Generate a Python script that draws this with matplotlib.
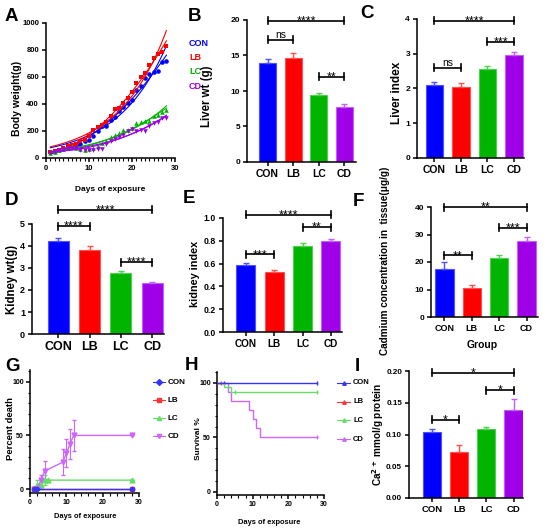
import numpy as np
import matplotlib
matplotlib.use("Agg")
import matplotlib.pyplot as plt
from matplotlib.lines import Line2D
from matplotlib.ticker import MultipleLocator

W, H = 550, 530
plt.rcParams['font.family'] = ['Liberation Sans', 'DejaVu Sans']
plt.rcParams['font.weight'] = 'bold'
plt.rcParams['axes.linewidth'] = 1.1
plt.rcParams['xtick.major.width'] = 1.1
plt.rcParams['ytick.major.width'] = 1.1
plt.rcParams['xtick.major.size'] = 3
plt.rcParams['ytick.major.size'] = 3

groups = ['CON', 'LB', 'LC', 'CD']
bar_colors = ['#0000ff', '#ff0000', '#00b400', '#a000e8']
edge_colors = ['#5050ff', '#ff5050', '#50d050', '#c060ff']
line_colors = ['#3333ff', '#ff3333', '#66dd66', '#cc66ff']

# A: body weight over days
days = np.arange(1, 29)
bw_con = [42, 49, 62, 68, 75, 85, 95, 106, 123, 136, 160, 198, 240, 240, 279, 304, 346, 378,
          408, 432, 501, 536, 593, 625, 635, 642, 709, 716]
bw_lb = [42, 49, 62, 74, 86, 94, 104, 123, 136, 160, 210, 227, 247, 264, 309, 365, 370, 408,
         445, 487, 556, 600, 630, 692, 741, 773, 783, 832]
bw_lc = [37, 47, 57, 69, 77, 86, 74, 67, 62, 67, 74, 86, 111, 123, 156, 173, 185, 205,
         210, 222, 259, 267, 274, 272, 309, 321, 338, 358]
bw_cd = [37, 47, 57, 67, 72, 77, 72, 62, 57, 62, 62, 67, 69, 106, 123, 141, 156, 173,
         198, 215, 198, 205, 198, 240, 259, 267, 296, 296]

# bar panels
liver_wt = [14.0, 14.7, 9.5, 7.76]
liver_wt_err = [0.45, 0.7, 0.24, 0.34]
liver_idx = [2.1, 2.04, 2.56, 2.97]
liver_idx_err = [0.075, 0.11, 0.1, 0.07]
kidney_wt = [4.24, 3.83, 2.77, 2.32]
kidney_wt_err = [0.12, 0.19, 0.08, 0.04]
kidney_idx = [0.59, 0.525, 0.758, 0.80]
kidney_idx_err = [0.018, 0.021, 0.02, 0.02]
cd_tissue = [17.3, 10.5, 21.6, 27.6]
cd_tissue_err = [2.7, 1.3, 1.1, 1.5]
ca_level = [0.104, 0.0724, 0.108, 0.139]
ca_level_err = [0.004, 0.0106, 0.004, 0.017]

# significance brackets: (group a, group b, height, label)
sig_b = [(0, 1, 17.2, 'ns'), (0, 3, 19.9, '****'), (2, 3, 12.0, '**')]
sig_c = [(0, 1, 2.6, 'ns'), (0, 3, 3.95, '****'), (2, 3, 3.35, '***')]
sig_d = [(0, 1, 4.9, '****'), (0, 3, 5.65, '****'), (2, 3, 3.27, '****')]
sig_e = [(0, 1, 0.68, '***'), (0, 3, 1.03, '****'), (2, 3, 0.92, '**')]
sig_f = [(0, 1, 22.4, '**'), (0, 3, 39.9, '**'), (2, 3, 32.5, '***')]
sig_i = [(0, 1, 0.123, '*'), (0, 3, 0.197, '*'), (2, 3, 0.170, '*')]

# G: percent death
death_con_x = [1, 2, 28]
death_con_y = [0, 0, 0]
death_lb_x = [1, 28]
death_lb_y = [0, 0]
death_lc_x = [1, 2, 3, 4, 5, 28]
death_lc_y = [0, 4.2, 4.2, 8.3, 8.3, 8.3]
death_lc_err = [0, 4, 4, 5, 0, 0]
death_cd_x = [1, 2, 3, 4, 9, 10, 11, 12, 28]
death_cd_y = [0, 0, 8.3, 16.7, 25, 33.3, 41.7, 50, 50]
death_cd_err = [0, 0, 5, 9, 12, 13, 14, 14.5, 0]

# H: survival
surv_con_t = [0, 28]
surv_con_s = [100, 100]
surv_lb_t = [0, 1]
surv_lb_s = [100, 100]
surv_lc_t = [0, 2, 4, 28]
surv_lc_s = [100, 95.8, 91.7, 91.7]
surv_cd_t = [0, 3, 4, 9, 10, 11, 12, 28]
surv_cd_s = [100, 91.7, 83.3, 75, 66.7, 58.3, 50, 50]

fig = plt.figure(figsize=(W / 100, H / 100), dpi=100)


def px_ax(left, top, right, bottom):
    return fig.add_axes([left / W, 1 - bottom / H, (right - left) / W, (bottom - top) / H])


def ftext(x, y, s, **kw):
    fig.text(x / W, 1 - y / H, s, **kw)


def clean(ax, size=6):
    ax.spines['top'].set_visible(False)
    ax.spines['right'].set_visible(False)
    ax.tick_params(labelsize=size, pad=2)


def bracket(ax, a, b, y, label):
    y0, y1 = ax.get_ylim()
    d = 3.5 / ax.bbox.height * (y1 - y0)
    ax.plot([a, b], [y, y], color='black', lw=1.2, clip_on=False)
    ax.plot([a, a], [y - d, y + d], color='black', lw=1.2, clip_on=False)
    ax.plot([b, b], [y - d, y + d], color='black', lw=1.2, clip_on=False)
    if label == 'ns':
        ax.annotate(label, ((a + b) / 2, y), xytext=(0, 1.2), textcoords='offset points',
                    ha='center', va='baseline', fontsize=7.5, fontweight='normal',
                    annotation_clip=False)
    else:
        ax.annotate(label, ((a + b) / 2, y), xytext=(0, -2.6), textcoords='offset points',
                    ha='center', va='baseline', fontsize=9, fontweight='normal',
                    annotation_clip=False)


def bar_panel(box, vals, errs, ymax, step, xl, xr, sigs, fmt, xsize=7.5, ysize=6):
    ax = px_ax(*box)
    x = np.arange(len(groups))
    ax.bar(x, vals, width=0.67, color=bar_colors, edgecolor=edge_colors, linewidth=0.8)
    for i in range(len(groups)):
        ax.errorbar(x[i], vals[i], yerr=[[0], [errs[i]]], fmt='none', ecolor=edge_colors[i],
                    elinewidth=1, capsize=2.5, capthick=1)
    ax.set_xlim(xl, 3 + xr)
    ax.set_ylim(0, ymax)
    ticks = np.arange(0, ymax + step / 2, step)
    ax.set_yticks(ticks)
    ax.set_yticklabels([fmt.format(v) for v in ticks])
    ax.set_xticks(x)
    ax.set_xticklabels(groups)
    clean(ax, ysize)
    ax.tick_params(axis='x', labelsize=xsize)
    for a, b, y, lab in sigs:
        bracket(ax, a, b, y, lab)
    return ax


# ---- A ----
axA = px_ax(46, 23, 175, 158)
series = [bw_con, bw_lb, bw_lc, bw_cd]
markers = ['o', 's', '^', 'v']
xfit = np.linspace(1, 28, 100)
for vals, c, m in zip(series, bar_colors, markers):
    vals = np.array(vals, float)
    axA.plot(days, vals, m, color=c, ms=3.3, mew=0)
    k, b0 = np.polyfit(days, np.log(vals), 1, w=vals ** 0.75)
    axA.plot(xfit, np.exp(b0 + k * xfit), color=c, lw=0.8)
    p = np.polyfit(days, vals, 2)
    axA.plot(xfit, np.polyval(p, xfit), color=c, lw=0.8)
axA.set_xlim(0, 30)
axA.set_ylim(0, 1000)
axA.set_xticks([0, 10, 20, 30])
axA.set_yticks(range(0, 1001, 200))
axA.xaxis.set_minor_locator(MultipleLocator(1))
axA.tick_params(axis='x', which='minor', length=2, width=0.8)
clean(axA, 5.5)
ftext(17, 98, 'Body weight(g)', rotation=90, ha='center', va='center', fontsize=7.5)
ftext(110, 190, 'Days of exposure', ha='center', va='center', fontsize=6)
for i, (g, c) in enumerate(zip(groups, bar_colors)):
    ftext(189, 43 + 14.5 * i, g, color=c, ha='left', va='center', fontsize=6.5)

# ---- bar panels ----
bar_panel((247, 20, 356, 162), liver_wt, liver_wt_err, 20, 5, -0.8, 0.45, sig_b, '{:.0f}')
ftext(207, 96, 'Liver wt (g)', rotation=90, ha='center', va='center', fontsize=8.3)

bar_panel((417, 19, 524, 158), liver_idx, liver_idx_err, 4, 1, -0.66, 0.38, sig_c, '{:.0f}')
ftext(397, 93, 'Liver index', rotation=90, ha='center', va='center', fontsize=8.5)

bar_panel((32, 224, 164, 334), kidney_wt, kidney_wt_err, 5, 1, -0.84, 0.38, sig_d, '{:.0f}',
          xsize=9, ysize=6.5)
ftext(12, 279, 'Kidney wt(g)', rotation=90, ha='center', va='center', fontsize=8.3)

bar_panel((223, 218, 342, 332), kidney_idx, kidney_idx_err, 1.0, 0.2, -0.81, 0.39, sig_e,
          '{:.1f}', xsize=7.2, ysize=6.3)
ftext(195, 274, 'kidney index', rotation=90, ha='center', va='center', fontsize=7.8)

bar_panel((431, 207, 538, 317), cd_tissue, cd_tissue_err, 40, 10, -0.49, 0.42, sig_f,
          '{:.0f}', xsize=6.5)
ftext(385, 261, 'Cadmium concentration in  tissue(\u03bcg/g)', rotation=90, ha='center',
      va='center', fontsize=7.2)
ftext(482, 345, 'Group', ha='center', va='center', fontsize=7.5)

bar_panel((409, 371, 523, 498), ca_level, ca_level_err, 0.20, 0.05, -0.85, 0.35, sig_i,
          '{:.2f}', xsize=6.8, ysize=5.8)
ftext(378, 434, 'Ca$^{\\mathbf{2+}}$ mmol/g protein', rotation=90, ha='center', va='center',
      fontsize=7.2)

# ---- G ----
axG = px_ax(30, 370, 139, 493)
axG.plot(death_con_x, death_con_y, '-D', color=line_colors[0], ms=2.5, lw=1, zorder=4)
axG.plot(death_lb_x, death_lb_y, '-s', color=line_colors[1], ms=3.5, lw=1, zorder=3)
axG.errorbar(death_lc_x, death_lc_y, yerr=death_lc_err, fmt='-^', color=line_colors[2], ms=3.5,
             lw=1, elinewidth=0.8, capsize=1.5)
axG.errorbar(death_cd_x, death_cd_y, yerr=death_cd_err, fmt='-v', color=line_colors[3], ms=3.5,
             lw=1, elinewidth=0.8, capsize=1.5)
axG.set_xlim(0, 30)
axG.set_ylim(-3.7, 111)
axG.set_xticks([0, 10, 20, 30])
axG.set_yticks([0, 50, 100])
axG.xaxis.set_minor_locator(MultipleLocator(2))
axG.yaxis.set_minor_locator(MultipleLocator(10))
axG.tick_params(which='minor', length=1.8, width=0.8)
clean(axG, 5)
axG.tick_params(labelsize=5, pad=1.5)
ftext(11, 429, 'Percent death', rotation=90, ha='center', va='center', fontsize=6.8)
ftext(85, 516, 'Days of exposure', ha='center', va='center', fontsize=5.4)
for i, (g, m) in enumerate(zip(groups, ['D', 's', '^', 'v'])):
    yy = 1 - (382 + 18 * i) / H
    fig.add_artist(Line2D([153 / W, 165 / W], [yy, yy], color=line_colors[i], lw=0.8,
                          transform=fig.transFigure))
    fig.add_artist(Line2D([159 / W], [yy], marker=m, color=line_colors[i], ms=3,
                          transform=fig.transFigure))
    ftext(168, 382 + 18 * i, g, ha='left', va='center', fontsize=5.8)

# ---- H ----
axH = px_ax(217, 372, 324, 495)
surv = [(surv_con_t, surv_con_s), (surv_lb_t, surv_lb_s), (surv_lc_t, surv_lc_s),
        (surv_cd_t, surv_cd_s)]
for i, (t, s) in enumerate(surv):
    axH.step(t, s, where='post', color=line_colors[i], lw=1, zorder=5 - i)
    axH.plot(t[-1], s[-1], '|', color=line_colors[i], ms=3.5, mew=1)
axH.plot(2, 100, '|', color=line_colors[0], ms=3.5, mew=1)
axH.plot(5, 91.7, '|', color=line_colors[2], ms=3.5, mew=1)
axH.set_xlim(0, 30)
axH.set_ylim(-2.8, 110)
axH.set_xticks([0, 10, 20, 30])
axH.set_yticks([0, 50, 100])
axH.xaxis.set_minor_locator(MultipleLocator(2))
axH.yaxis.set_minor_locator(MultipleLocator(10))
axH.tick_params(which='minor', length=1.8, width=0.8)
clean(axH, 5)
axH.tick_params(labelsize=5, pad=1.5)
ftext(198, 439, 'Survival %', rotation=90, ha='center', va='center', fontsize=6)
ftext(269, 522, 'Days of exposure', ha='center', va='center', fontsize=5.4)
for i, g in enumerate(groups):
    yy = 1 - (383 + 18.7 * i) / H
    fig.add_artist(Line2D([337 / W, 350 / W], [yy, yy], color=line_colors[i], lw=0.8,
                          transform=fig.transFigure))
    fig.add_artist(Line2D([343.5 / W], [yy], marker='^', color=line_colors[i], ms=2.5,
                          transform=fig.transFigure))
    ftext(353, 383 + 18.7 * i, g, ha='left', va='center', fontsize=5.5)

# panel letters
letters = [('A', 5, 8), ('B', 188, 8), ('C', 360, 5), ('D', 5, 192), ('E', 183, 190),
           ('F', 353, 193), ('G', 5, 358), ('H', 185, 357), ('I', 355, 358)]
for s, x, y in letters:
    ftext(x, y, s, ha='left', va='top', fontsize=13.5, fontweight='heavy')

fig.savefig('out.png', dpi=100)
